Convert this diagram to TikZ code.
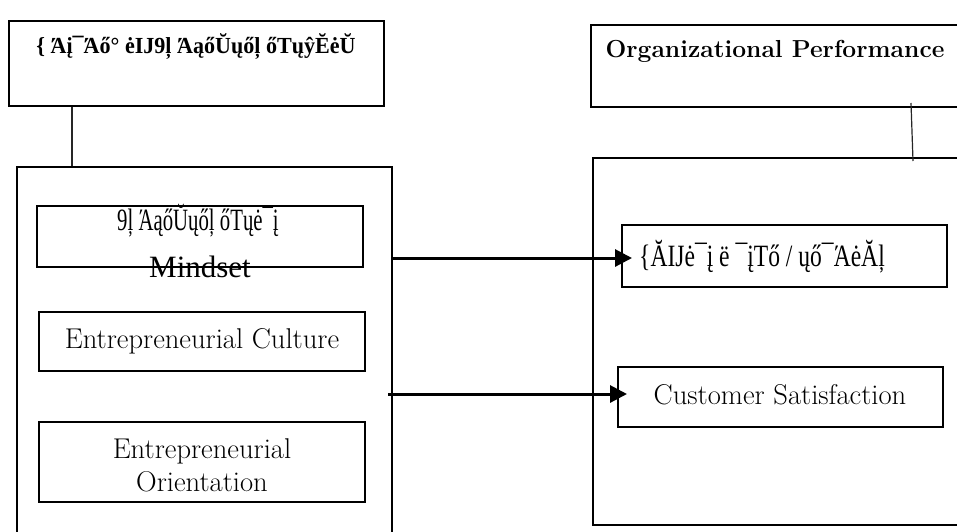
\documentclass[tikz,border=0pt]{standalone}
\usepackage{fontspec}
\newfontfamily\libserif{Liberation Serif}
\usetikzlibrary{arrows.meta,fit}
\begin{document}
\begin{tikzpicture}[x=1pt,y=-1pt,
  box/.style={draw=black, line width=2pt, rectangle, inner sep=0pt},
  conn/.style={draw=black!85, line width=1.2pt},
  arr/.style={draw=black, line width=3pt, -{Triangle[length=17pt,width=17pt]}},
  lmtext/.style={font=\fontsize{28.6}{33}\selectfont, align=center, inner sep=0pt},
  libtext/.style={font=\libserif\fontsize{31}{36}\selectfont, inner sep=0pt},
]
\useasboundingbox (0,0) rectangle (957,531);

% boxes
\node[box, fit={(9,21) (384,106)}] (TL) {};
\node[box, fit={(591,25) (975,107)}] (TR) {};
\node[box, fit={(17,167) (392,550)}] (L) {};
\node[box, fit={(593,158) (975,525)}] (R) {};
\node[box, fit={(37,206) (363,267)}] (I1) {};
\node[box, fit={(39,312) (365,371)}] (I2) {};
\node[box, fit={(39,422) (365,502)}] (I3) {};
\node[box, fit={(622,225) (947,287)}] (R1) {};
\node[box, fit={(618,367) (943,427)}] (R2) {};

% texts
\node[inner sep=0pt, font=\libserif\bfseries\fontsize{23}{26}\selectfont] (TLt) at (196,46) {\scalebox{0.96}[1]{\{ Άį¯Άő° ėIJ9ļ ΆąőŬųőļ őTųŷĔėŬ}};
\node[inner sep=0pt, font=\bfseries\fontsize{24.6}{28}\selectfont] (TRt) at (775,51) {Organizational Performance};
\node[libtext, anchor=base] (I1a) at (198,230) {\scalebox{0.67}[1]{9ļ ΆąőŬųőļ őTųė¯į}};
\node[libtext, anchor=base] (I1b) at (200,277) {Mindset};
\node[lmtext] (I2t) at (I2.center) {Entrepreneurial Culture};
\node[lmtext] (I3t) at (202,465) {Entrepreneurial\\Orientation};
\node[libtext] (R1t) at (762,257) {\scalebox{0.76}[1]{\{ĂIJė¯į ë ¯įTő / ųő¯ΆėĂļ}};
\node[lmtext] (R2t) at (780,395) {Customer Satisfaction};

% connectors
\draw[conn] ([xshift=64pt]TL.south west) -- ([xshift=56pt]L.north west);
\draw[conn] ([xshift=321pt,yshift=5pt]TR.south west) -- ([xshift=321pt,yshift=-4pt]R.north west);
\draw[arr, shorten >=-11pt] ([yshift=-2pt]L.east |- R1.west) -- ([yshift=-2pt]R1.west);
\draw[arr, shorten <=-5pt, shorten >=-10pt] ([yshift=3pt]L.east |- R2.west) -- ([yshift=3pt]R2.west);
\end{tikzpicture}
\end{document}
